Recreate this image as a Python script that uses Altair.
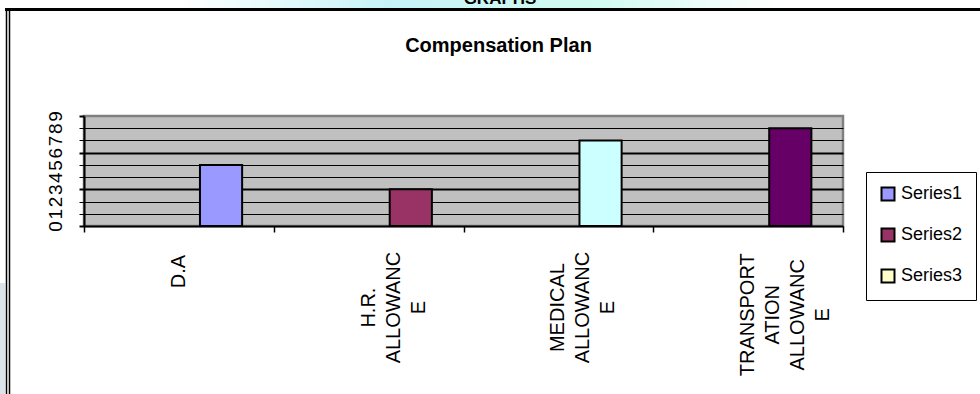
import altair as alt
import pandas as pd

# Chart data
categories = [
    "D.A",
    "H.R.\nALLOWANC\nE",
    "MEDICAL\nALLOWANC\nE",
    "TRANSPORT\nATION\nALLOWANC\nE",
]
series_names = ["Series1", "Series2", "Series3"]
series_colors = ["#9999FF", "#993366", "#FFFFCC"]
point_colors = ["#9999FF", "#993366", "#CCFFFF", "#660066"]
series3_values = [5, 3, 7, 8]
y_ticks = list(range(10))

FONT = "Liberation Sans"
W, H = 759, 110          # plot area
OX, OY = 84, 116         # plot origin on the page


def px(v):
    return alt.value(v - OX)


def py(v):
    return alt.value(v - OY)


bars_df = pd.DataFrame({"category": categories, "series": "Series3", "value": series3_values})
# series keys for the legend (no values of their own to draw)
legend_df = pd.DataFrame({"series": series_names, "value": [None] * len(series_names)})
labels_df = pd.DataFrame({
    "category": categories,
    "longest": [max(len(p) for p in c.split("\n")) for c in categories],
})
deco_df = pd.DataFrame({"k": [0]})

x_enc = alt.X(
    "category:N",
    sort=categories,
    scale=alt.Scale(domain=categories, paddingInner=0, paddingOuter=0),
    axis=alt.Axis(
        labels=False, title=None, grid=False, tickBand="extent",
        tickSize=6, tickWidth=1.5, tickColor="black",
        domainColor="black", domainWidth=2,
    ),
)

y_scale = alt.Scale(domain=[0, 9], nice=False, zero=True)
y_enc = alt.Y(
    "value:Q",
    scale=y_scale,
    axis=alt.Axis(
        values=y_ticks, title=None,
        labelAngle=270, labelAlign="center", labelBaseline="alphabetic",
        labelPadding=18, labelFont=FONT, labelFontSize=19, labelColor="black",
        labelOverlap=False, labelFlush=False,
        tickSize=5, tickColor="black",
        tickWidth={"condition": {"test": "datum.value % 3 === 0", "value": 2}, "value": 1},
        domainColor="black", domainWidth=2,
        grid=True, gridColor="black",
        gridWidth={"condition": {"test": "datum.value % 3 === 0", "value": 2}, "value": 1},
        gridOpacity={"condition": {"test": "datum.value === 0 || datum.value === 9", "value": 0}, "value": 1},
    ),
)

bars = alt.Chart(bars_df).mark_bar(stroke="black", strokeWidth=2, opacity=1).encode(
    x=x_enc,
    xOffset=alt.XOffset(
        "series:N",
        scale=alt.Scale(domain=series_names, paddingInner=0, paddingOuter=0.75),
    ),
    y=y_enc,
    color=alt.Color(
        "category:N",
        scale=alt.Scale(domain=categories, range=point_colors),
        legend=None,
    ),
)

series_key = alt.Chart(legend_df).mark_bar(stroke="black", strokeWidth=2).encode(
    y=alt.Y("value:Q", scale=y_scale, axis=None),
    fill=alt.Fill(
        "series:N",
        scale=alt.Scale(domain=series_names, range=series_colors),
        legend=alt.Legend(
            title=None, orient="none", legendX=782, legendY=56, direction="vertical",
            fillColor="white", strokeColor="black", padding=13,
            symbolType="square", symbolSize=169,
            symbolStrokeColor="black", symbolStrokeWidth=2,
            labelFont=FONT, labelFontSize=18, labelColor="black",
            rowPadding=19, labelOffset=4,
        ),
    ),
)

# Category labels, rotated, lines centred on each other
labels = alt.Chart(labels_df).transform_calculate(
    ypix="134 + datum.longest * 7.2"
).mark_text(
    angle=270, align="center", baseline="middle", lineBreak="\n",
    font=FONT, fontSize=20, lineHeight=25, color="black",
).encode(
    x=x_enc,
    y=alt.Y("ypix:Q", scale=None, axis=None),
    text="category:N",
)

# Page decoration: header strip, headings and frame
base = alt.Chart(deco_df)
header_band = base.mark_rect(
    fill=alt.Gradient(
        gradient="linear", x1=0, x2=1, y1=0, y2=0,
        stops=[
            alt.GradientStop(color="#ffffff", offset=0),
            alt.GradientStop(color="#c6f3f8", offset=0.35),
            alt.GradientStop(color="#d2fbf1", offset=0.7),
            alt.GradientStop(color="#ffffff", offset=1),
        ],
    )
).encode(x=px(180), x2=px(780), y=py(0), y2=py(8))
heading = base.mark_text(
    text="GRAPHS", font=FONT, fontSize=17, fontWeight="bold",
    align="center", baseline="alphabetic", color="black",
).encode(x=px(500), y=py(4))
title = base.mark_text(
    text="Compensation Plan", font=FONT, fontSize=20, fontWeight="bold",
    align="center", baseline="alphabetic", color="black",
).encode(x=px(498.5), y=py(52))
frame_top = base.mark_rule(color="black", strokeWidth=3).encode(x=px(5), x2=px(980), y=py(9.5))
frame_l1 = base.mark_rule(color="black", strokeWidth=1.5).encode(x=px(6.5), y=py(9), y2=py(394))
frame_l2 = base.mark_rule(color="black", strokeWidth=1.5).encode(x=px(9.5), y=py(9), y2=py(394))
side_strip = base.mark_rect(color="#dbe3ea").encode(x=px(0), x2=px(5), y=py(283), y2=py(394))

chart = alt.layer(
    header_band, heading, title, side_strip, frame_top, frame_l1, frame_l2,
    bars, series_key, labels,
).resolve_scale(
    y="independent"
).properties(
    width=W,
    height=H,
    autosize=alt.AutoSizeParams(type="none"),
    padding={"left": OX, "top": OY, "right": 980 - OX - W, "bottom": 394 - OY - H},
    background="white",
).configure_view(
    fill="#C0C0C0", stroke="#808080", strokeWidth=2.5,
)

chart.save("out.html", embed_options={"renderer": "svg", "actions": False})
